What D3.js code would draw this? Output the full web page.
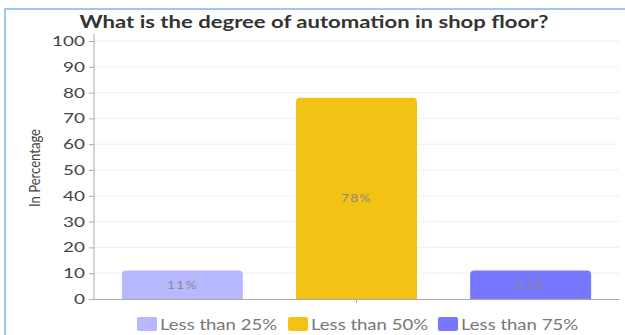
<!DOCTYPE html>
<html lang="en">
<head>
<meta charset="utf-8">
<title>Degree of automation</title>
<script src="https://d3js.org/d3.v7.min.js"></script>
<style>
  body { margin: 0; background: #fff; font-family: Lato, sans-serif; }
  svg { display: block; }
</style>
</head>
<body>
<div id="chart"></div>
<script>
// chart data
var categories = ["Less than 25%", "Less than 50%", "Less than 75%"];
var values = [11, 78, 11];
var barLabels = ["11%", "78%", "11%"];
var colors = ["#b8b8ff", "#f2c314", "#7878ff"];
var yTicks = [0, 10, 20, 30, 40, 50, 60, 70, 80, 90, 100];

var w = 625, h = 335;
var plotLeft = 94, plotRight = 619, plotTop = 41, plotBottom = 299;

// the original picture is drawn a bit wide, so widen the glyphs
function widen(sel, k) {
    sel.each(function() {
        var len = this.getComputedTextLength();
        d3.select(this).attr("textLength", len * k).attr("lengthAdjust", "spacingAndGlyphs");
    });
}

var svg = d3.select("#chart").append("svg")
    .attr("width", w)
    .attr("height", h);

// light blue frame round the card
svg.append("path")
    .attr("d", "M5," + h + "V9H" + w)
    .attr("fill", "none")
    .attr("stroke", "#9cc8f5")
    .attr("stroke-width", 2);

var x = d3.scaleBand().domain(categories).range([plotLeft, plotRight])
    .paddingInner(0.305).paddingOuter(0.16);
var y = d3.scaleLinear().domain([0, 100]).range([plotBottom, plotTop]);

// gridlines
svg.selectAll(".grid")
    .data(yTicks.slice(1))
    .enter().append("line")
    .attr("x1", plotLeft).attr("x2", plotRight)
    .attr("y1", function(d) { return y(d); })
    .attr("y2", function(d) { return y(d); })
    .attr("stroke", "#efefef");

// y axis
var yAxis = svg.append("g")
    .attr("transform", "translate(" + plotLeft + ",0)")
    .call(d3.axisLeft(y).tickValues(yTicks).tickSize(5).tickPadding(4));
yAxis.select(".domain").attr("stroke", "#aaa").attr("d", "M0," + (plotTop - 7) + "V" + plotBottom);
yAxis.selectAll(".tick line").attr("stroke", "#aaa");
yAxis.selectAll("text")
    .attr("fill", "#444")
    .attr("font-family", "Lato, sans-serif")
    .attr("font-size", "14px")
    .call(widen, 1.35);

// bars with rounded tops
var r = 4;
svg.selectAll(".bar")
    .data(values)
    .enter().append("path")
    .attr("class", "bar")
    .attr("fill", function(d, i) { return colors[i]; })
    .attr("d", function(d, i) {
        var x0 = x(categories[i]), x1 = x0 + x.bandwidth();
        var y0 = y(d), y1 = y(0);
        return "M" + x0 + "," + y1 + "V" + (y0 + r) + "Q" + x0 + "," + y0 + " " + (x0 + r) + "," + y0
            + "H" + (x1 - r) + "Q" + x1 + "," + y0 + " " + x1 + "," + (y0 + r) + "V" + y1 + "Z";
    });

svg.selectAll(".val")
    .data(values)
    .enter().append("text")
    .attr("class", "val")
    .attr("x", function(d, i) { return x(categories[i]) + x.bandwidth() / 2; })
    .attr("y", function(d) { return (y(d) + y(0)) / 2; })
    .attr("dy", "0.35em")
    .attr("text-anchor", "middle")
    .attr("fill", "#888")
    .attr("font-size", "11px")
    .attr("letter-spacing", "1px")
    .text(function(d, i) { return barLabels[i]; })
    .call(widen, 1.25);

// x baseline with centre tick
svg.append("line")
    .attr("x1", plotLeft).attr("x2", plotRight)
    .attr("y1", plotBottom + 0.5).attr("y2", plotBottom + 0.5)
    .attr("stroke", "#aaa");
var mid = x(categories[1]) + x.bandwidth() / 2;
svg.append("line")
    .attr("x1", mid).attr("x2", mid)
    .attr("y1", plotBottom).attr("y2", plotBottom + 4)
    .attr("stroke", "#aaa");

// title
svg.append("text")
    .attr("x", 314).attr("y", 28)
    .attr("text-anchor", "middle")
    .attr("font-size", "16.5px")
    .attr("font-weight", "bold")
    .attr("fill", "#333")
    .text("What is the degree of automation in shop floor?")
    .attr("textLength", 469)
    .attr("lengthAdjust", "spacingAndGlyphs");

// y label
svg.append("text")
    .attr("transform", "translate(40,168) rotate(-90)")
    .attr("text-anchor", "middle")
    .attr("font-size", "15px")
    .attr("fill", "#444")
    .attr("textLength", 78)
    .attr("lengthAdjust", "spacingAndGlyphs")
    .text("In Percentage");

// legend
var legendX = [137, 288, 438];
var lg = svg.selectAll(".leg")
    .data(categories)
    .enter().append("g")
    .attr("transform", function(d, i) { return "translate(" + legendX[i] + ",317)"; });
lg.append("rect")
    .attr("width", 20).attr("height", 14).attr("rx", 2)
    .attr("fill", function(d, i) { return colors[i]; });
lg.append("text")
    .attr("x", 23).attr("y", 13)
    .attr("font-size", "15px")
    .attr("fill", "#777")
    .text(function(d) { return d; })
    .attr("textLength", 117)
    .attr("lengthAdjust", "spacingAndGlyphs");
</script>
</body>
</html>
